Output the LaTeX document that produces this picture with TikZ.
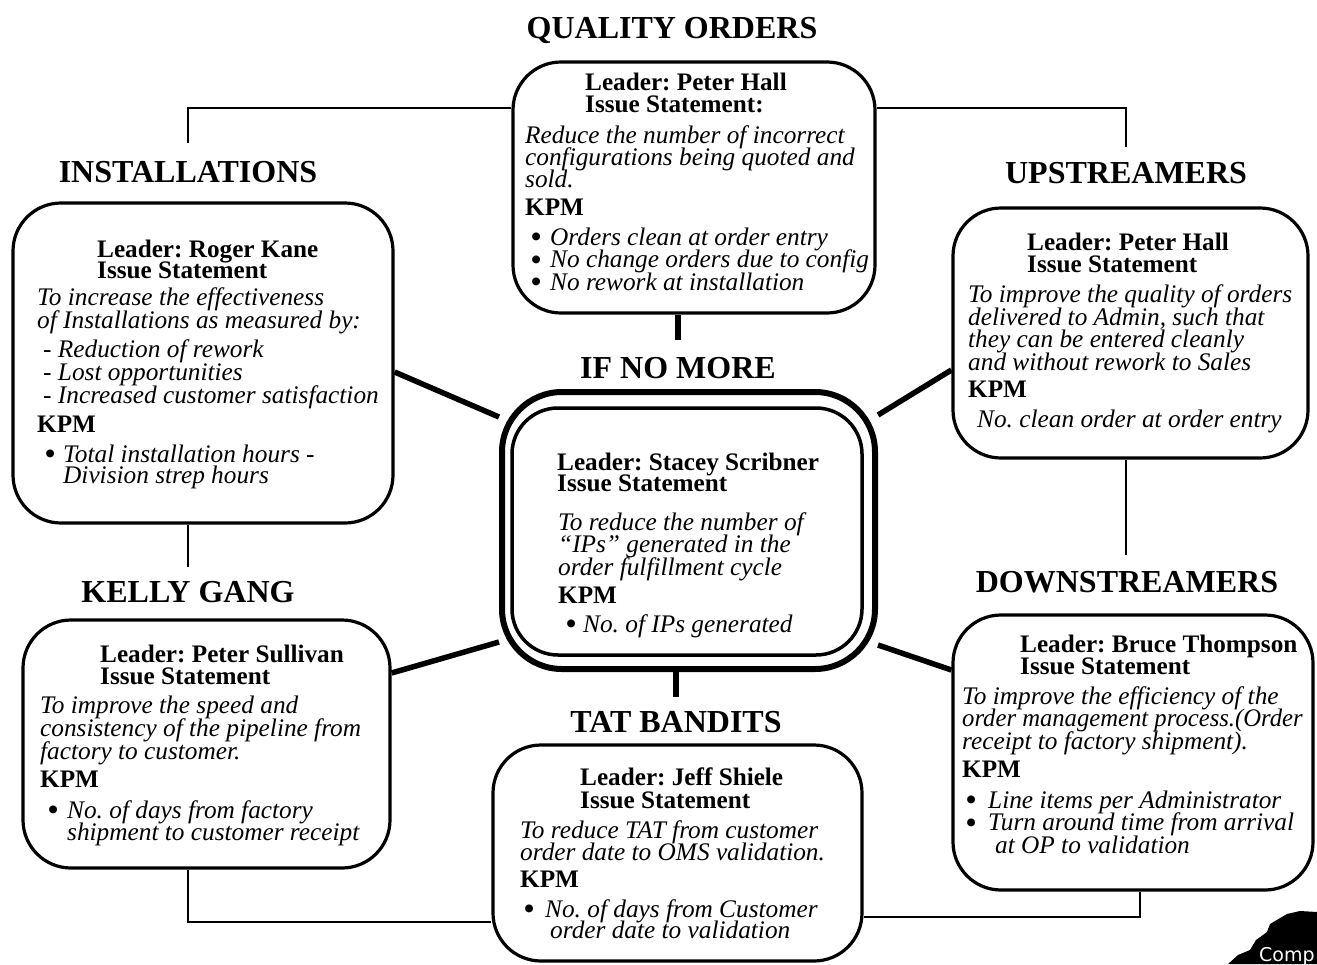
\documentclass[tikz,border=0pt]{standalone}
\usepackage{fontspec}
\usepackage{graphicx}
\setmainfont{Liberation Serif}
\newfontfamily\compfont{DejaVu Sans}
\lineskiplimit=-100pt
\frenchspacing
% #1 name, #2 x, #3 baseline of first line, #4 leading, #5 size, #6 shape, #7 number of lines, #8 lines
\newcommand\blk[8]{\node[anchor=base west, inner sep=0pt, align=left, font={\fontsize{#5}{#4}\selectfont#6}] (#1) at (#2,{#3+(#7-1)*#4}) {#8};}
\newcommand\bult{\raisebox{-1.5pt}{\textbullet}}
\begin{document}
\begin{tikzpicture}[x=1pt,y=-1pt,
  box/.style={draw, line width=3.2pt, rounded corners=48pt, inner sep=0pt},
  title/.style={font=\fontsize{32}{32}\selectfont\bfseries, anchor=base, inner sep=0pt},
  kpm/.style={font=\fontsize{25.2}{25}\selectfont\bfseries, anchor=base west, inner sep=0pt},
  conn/.style={line width=2.8pt},
  heavy/.style={line width=5.5pt}]
\useasboundingbox (0,0) rectangle (1317,964);

% boxes
\node[box, minimum width=362pt, minimum height=251pt] (qo) at (694,187.5) {};
\node[box, minimum width=380pt, minimum height=320pt] (inst) at (203,363) {};
\node[box, minimum width=355pt, minimum height=250pt] (up) at (1130.5,333) {};
\node[box, line width=6pt, rounded corners=60pt, minimum width=373pt, minimum height=277pt] (ceo) at (688.5,530.5) {};
\node[box, line width=3.5pt, rounded corners=46pt, minimum width=350pt, minimum height=247pt] (cei) at (687,531.5) {};
\node[box, minimum width=367pt, minimum height=248pt] (kg) at (206.5,744) {};
\node[box, minimum width=369pt, minimum height=216pt] (tat) at (677.5,853) {};
\node[box, minimum width=360pt, minimum height=275pt] (down) at (1133,752.5) {};

% titles
\node[title] (tQO) at (672,38) {QUALITY ORDERS};
\node[title] (tInst) at (188,182) {INSTALLATIONS};
\node[title] (tUp) at (1126,183) {UPSTREAMERS};
\node[title] (tIf) at (678,378) {IF NO MORE};
\node[title] (tKG) at (188,602) {KELLY GANG};
\node[title] (tDown) at (1127,592) {DOWNSTREAMERS};
\node[title] (tTat) at (676,732) {TAT BANDITS};

% connectors
\draw[conn] (tInst |- 0,143) |- (qo.west |- 0,108);
\draw[conn] (qo.east |- 0,108) -| (tUp |- 0,147);
\draw[heavy] (tIf |- qo.south) -- (tIf |- 0,340);
\draw[heavy] (inst.east |- 0,372) -- (ceo.west |- 0,417);
\draw[heavy] (up.west |- 0,370) -- (ceo.east |- 0,415);
\draw[conn] (tKG |- inst.south) -- (tKG |- 0,567);
\draw[conn] (tUp |- up.south) -- (tUp |- 0,555);
\draw[heavy] (kg.east |- 0,673) -- (ceo.west |- 0,642);
\draw[heavy] (down.west |- 0,670) -- (ceo.east |- 0,645);
\draw[heavy] (tTat |- ceo.south) -- (tTat |- 0,697);
\draw[conn] (tKG |- kg.south) |- (tat.west |- 0,922);
\draw[conn] (tat.east |- 0,917) -| (down.south -| 1140,0);

% QUALITY ORDERS text
\blk{qoL}{585}{90}{22.5}{25.2}{\bfseries}{2}{Leader: Peter Hall\\Issue Statement:}
\blk{qoI}{525}{143}{22}{25.3}{\itshape}{3}{Reduce the number of incorrect\\configurations being quoted and\\sold.}
\node[kpm] (qoK) at (525,215) {KPM};
\blk{qoB}{531}{245}{22.5}{29}{\bfseries}{3}{\bult\\\bult\\\bult}
\blk{qoT}{550}{245}{22.5}{25.3}{\itshape}{3}{Orders clean at order entry\\No change orders due to config\\No rework at installation}

% INSTALLATIONS text
\blk{inL}{97}{257}{21.5}{25.2}{\bfseries}{2}{Leader: Roger Kane\\Issue Statement}
\blk{inI}{37}{305}{23}{25.3}{\itshape}{2}{To increase the effectiveness\\of Installations as measured by:}
\blk{inD}{43}{357}{23}{25.3}{\itshape}{3}{- Reduction of rework\\- Lost opportunities\\- Increased customer satisfaction}
\node[kpm] (inK) at (37,432) {KPM};
\blk{inB}{45}{462}{21.5}{29}{\bfseries}{1}{\bult}
\blk{inT}{63}{462}{21.5}{25.3}{\itshape}{2}{Total installation hours -\\Division strep hours}

% UPSTREAMERS text
\blk{upL}{1027}{250}{22.5}{25.2}{\bfseries}{2}{Leader: Peter Hall\\Issue Statement}
\blk{upI}{968}{302.5}{22.5}{25.3}{\itshape}{4}{To improve the quality of orders\\delivered to Admin, such that\\they can be entered cleanly\\and without rework to Sales}
\node[kpm] (upK) at (968,397.5) {KPM};
\blk{upT}{977}{427}{22.5}{25.3}{\itshape}{1}{No. clean order at order entry}

% IF NO MORE text
\blk{ceL}{557}{470}{21.5}{25.2}{\bfseries}{2}{Leader: Stacey Scribner\\Issue Statement}
\blk{ceI}{558}{530}{22.5}{25.3}{\itshape}{3}{To reduce the number of\\``IPs'' generated in the\\order fulfillment cycle}
\node[kpm] (ceK) at (558,603) {KPM};
\blk{ceB}{566}{632}{22.5}{29}{\bfseries}{1}{\bult}
\blk{ceT}{583}{632}{22.5}{25.3}{\itshape}{1}{No. of IPs generated}

% KELLY GANG text
\blk{kgL}{100}{662}{22}{25.2}{\bfseries}{2}{Leader: Peter Sullivan\\Issue Statement}
\blk{kgI}{40}{713}{23}{25.3}{\itshape}{3}{To improve the speed and\\consistency of the pipeline from\\factory to customer.}
\node[kpm] (kgK) at (40,787) {KPM};
\blk{kgB}{48}{818}{22}{29}{\bfseries}{1}{\bult}
\blk{kgT}{67}{818}{22}{25.3}{\itshape}{2}{No. of days from factory\\shipment to customer receipt}

% DOWNSTREAMERS text
\blk{dnL}{1020}{652.5}{21.5}{25.2}{\bfseries}{2}{Leader: Bruce Thompson\\Issue Statement}
\blk{dnI}{962}{704}{22.7}{25.3}{\itshape}{3}{To improve the efficiency of the\\\scalebox{0.975}[1]{order management process.(Order}\\receipt to factory shipment).}
\node[kpm] (dnK) at (962,777) {KPM};
\blk{dnB}{966}{808}{22.5}{29}{\bfseries}{2}{\bult\\\bult}
\blk{dnT}{988}{808}{22.5}{25.3}{\itshape}{3}{Line items per Administrator\\Turn around time from arrival\\\hspace*{7pt}at OP to validation}

% TAT BANDITS text
\blk{taL}{580}{785}{23}{25.2}{\bfseries}{2}{Leader: Jeff Shiele\\Issue Statement}
\blk{taI}{520}{838}{22}{25.3}{\itshape}{2}{To reduce TAT from customer\\order date to OMS validation.}
\node[kpm] (taK) at (520,887) {KPM};
\blk{taB}{524}{917}{21.5}{29}{\bfseries}{1}{\bult}
\blk{taT}{545}{917}{21.5}{25.3}{\itshape}{2}{No. of days from Customer\\\hspace*{5pt}order date to validation}

% corner blot
\fill (1228,964) -- (1238,955) -- (1250,950) -- (1256,940) -- (1267,932) -- (1270,924) -- (1287,914) -- (1300,911) -- (1317,912) -- (1317,964) -- cycle;
\node[font=\compfont\fontsize{19}{19}\selectfont, text=white, anchor=base west, inner sep=0pt] (comp) at (1259,961) {Comp};
\end{tikzpicture}
\end{document}
